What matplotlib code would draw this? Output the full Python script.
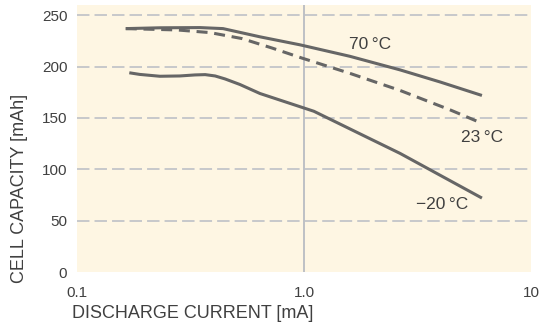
import matplotlib.pyplot as plt
from matplotlib.ticker import FixedLocator, NullLocator

plt.rcParams['font.family'] = ['Liberation Sans', 'DejaVu Sans']

# capacity vs discharge current, three temperatures
cur_70 = [0.164, 0.232, 0.348, 0.440, 0.640, 0.961, 1.595, 2.65, 3.97, 6.08]
cap_70 = [237.0, 237.8, 238.0, 237.0, 229.0, 221.2, 210.0, 196.8, 185.1, 171.9]

cur_23 = [0.164, 0.276, 0.386, 0.533, 0.723, 0.980, 1.595, 2.65, 4.40, 6.08]
cap_23 = [237.0, 235.7, 233.1, 227.3, 218.1, 208.3, 193.4, 176.8, 157.9, 144.8]

cur_m20 = [0.170, 0.189, 0.232, 0.284, 0.331, 0.367, 0.406, 0.449, 0.522,
           0.640, 1.106, 1.895, 2.65, 3.59, 6.08]
cap_m20 = [194.0, 192.4, 190.6, 190.9, 191.9, 192.2, 190.9, 188.0, 182.6,
           173.8, 156.5, 131.2, 115.5, 99.6, 72.0]

xticks = [0.1, 1.0, 10]
xtick_labels = ['0.1', '1.0', '10']
yticks = [0, 50, 100, 150, 200, 250]

line_col = '#666666'
text_col = '#404040'

fig = plt.figure(figsize=(5.46, 3.26), dpi=100)
ax = fig.add_axes([0.141, 0.1656, 0.8315, 0.8191])
ax.set_facecolor('#FEF6E3')

ax.set_xscale('log')
ax.set_xlim(0.1, 10)
ax.set_ylim(0, 260)

# horizontal dashed grid and the 1.0 mA marker line
for yv in yticks[1:]:
    ax.axhline(yv, color='#C3C5C9', lw=1.3, ls=(0, (6.9, 2.8)), zorder=1)
ax.axvline(1.0, color='#B9BCC2', lw=1.3, zorder=1)

ax.plot(cur_70, cap_70, color=line_col, lw=2.2, solid_capstyle='butt',
        solid_joinstyle='round', zorder=3)
ax.plot(cur_23, cap_23, color=line_col, lw=2.2, ls=(0, (3.6, 2.2)), zorder=3)
ax.plot(cur_m20, cap_m20, color=line_col, lw=2.2, solid_capstyle='butt',
        solid_joinstyle='round', zorder=3)

ax.text(1.95, 221.7, '70\u2009°C', color=text_col, fontsize=12.5, ha='center', va='center')
ax.text(6.08, 130.9, '23\u2009°C', color=text_col, fontsize=12.5, ha='center', va='center')
ax.text(4.06, 66.0, '\u221220\u2009°C', color=text_col, fontsize=12.5, ha='center', va='center')

ax.xaxis.set_major_locator(FixedLocator(xticks))
ax.xaxis.set_minor_locator(NullLocator())
ax.set_xticklabels(xtick_labels)
ax.set_yticks(yticks)
ax.tick_params(length=0, labelsize=11, labelcolor=text_col)
ax.tick_params(axis='x', pad=10)
ax.tick_params(axis='y', pad=7)
for s in ax.spines.values():
    s.set_visible(False)

ax.set_xlabel('DISCHARGE CURRENT [mA]', fontsize=13, color=text_col, loc='left')
ax.xaxis.set_label_coords(-0.011, -0.125)
ax.set_ylabel('CELL CAPACITY [mAh]', fontsize=13, color=text_col, loc='bottom')
ax.yaxis.set_label_coords(-0.108, -0.041)

fig.savefig('out.png', dpi=100)
